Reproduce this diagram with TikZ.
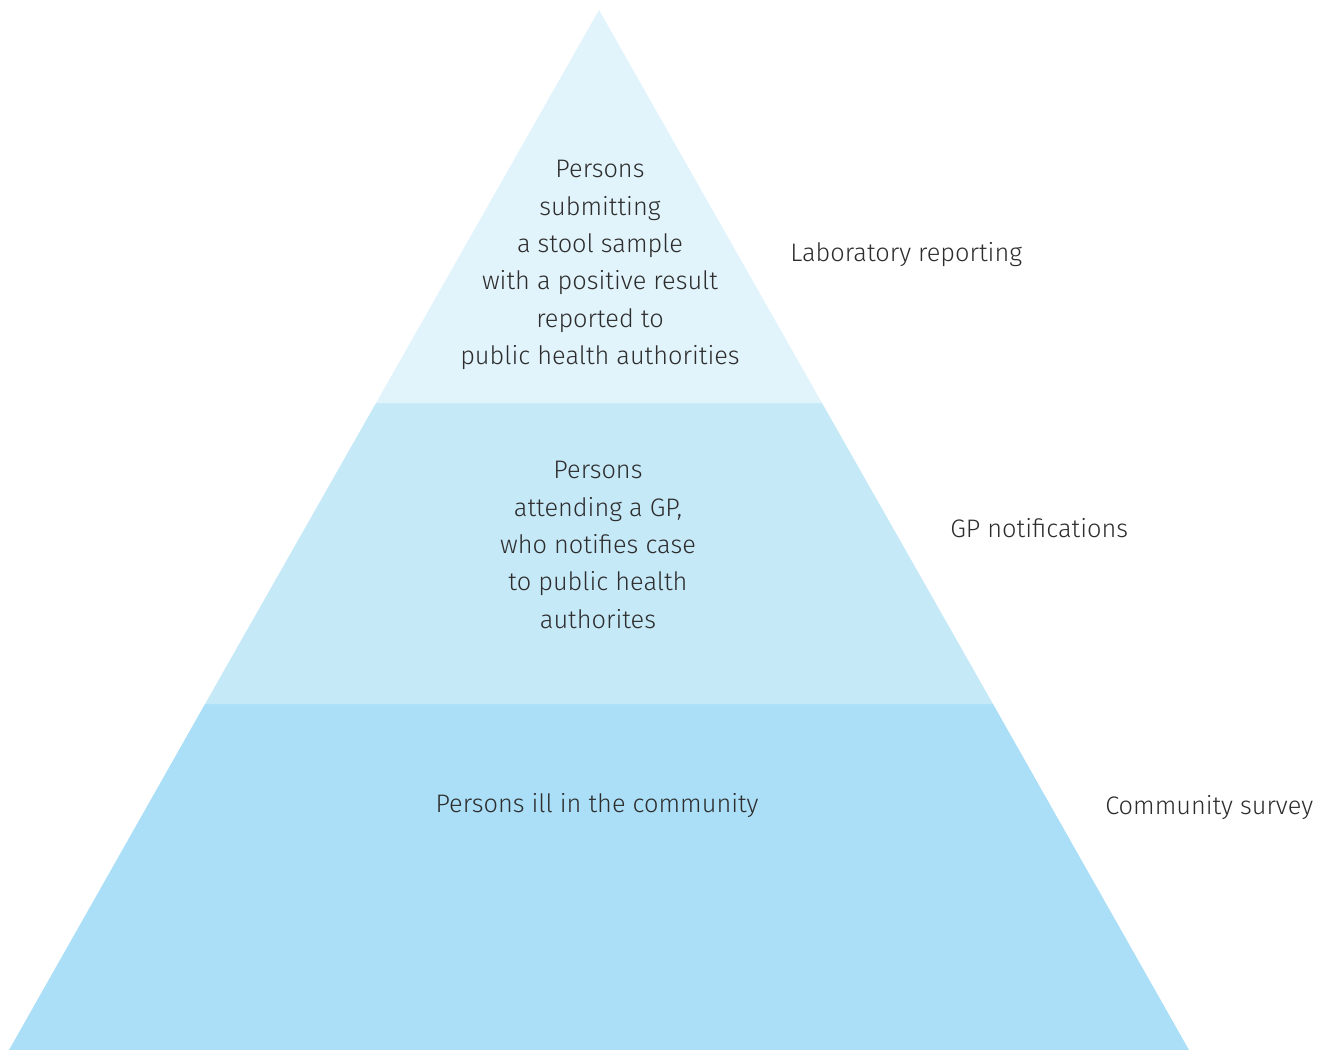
\documentclass[tikz,border=0pt]{standalone}
\usepackage{fontspec}
\setmainfont{Fira Sans}[UprightFont={* Light}]
\usepackage{tikz}
\usetikzlibrary{positioning}
\usepackage{xcolor}
\definecolor{pyrtop}{RGB}{225,243,251}
\definecolor{pyrmid}{RGB}{198,233,248}
\definecolor{pyrbase}{RGB}{171,223,247}
\definecolor{pyrtext}{RGB}{45,45,45}
\tikzstyle{level} = [text=pyrtext, align=center, font=\fontsize{19}{28}\selectfont]
\tikzstyle{source} = [text=pyrtext, anchor=west, inner sep=0pt, font=\fontsize{19}{28}\selectfont]

\begin{document}
\begin{tikzpicture}[x=0.75pt, y=-0.75pt]
\useasboundingbox (0,0) rectangle (1336,1050);
% Corners
\coordinate (apex) at (599,10);
\coordinate (topl) at (376,403);
\coordinate (topr) at (822,403);
\coordinate (midl) at (205,704);
\coordinate (midr) at (993,704);
\coordinate (basel) at (9,1050);
\coordinate (baser) at (1189,1050);

% Bands
\fill[pyrbase] (midl) -- (midr) -- (baser) -- (basel) -- cycle;
\fill[pyrmid] (topl) -- (topr) -- (midr) -- (midl) -- cycle;
\fill[pyrtop] (apex) -- (topr) -- (topl) -- cycle;

% Nodes
\node (lab) [level] at (600,265) {Persons\\submitting\\a stool sample\\with a positive result\\reported to\\public health authorities};
\node (gp) [level] at (598,545) {Persons\\attending a GP,\\who notifies case\\to public health\\authorites};
\node (ill) [level] at (597,806) {Persons ill in the community};

\node (labsrc) [source] at (790,255) {Laboratory reporting};
\node (gpsrc) [source] at (950,528) {GP notifications};
\node (illsrc) [source] at (1105,808) {Community survey};
\end{tikzpicture}
\end{document}
